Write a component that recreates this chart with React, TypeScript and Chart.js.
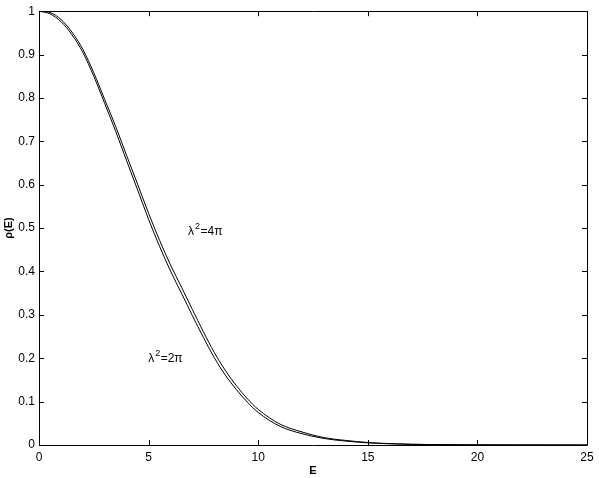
import React, { useEffect, useRef } from "react";
import { Chart, registerables } from "chart.js";

Chart.register(...registerables);

const energies = [0, 0.5, 1, 1.5, 2, 2.5, 3, 3.5, 4, 4.5, 5, 5.5, 6, 6.5, 7, 7.5, 8, 8.5, 9, 9.5, 10, 11, 12, 13, 14, 15, 16, 17, 18, 20, 22, 25];
const rho2pi = [1.0, 0.994, 0.976, 0.946, 0.905, 0.85, 0.787, 0.723, 0.655, 0.588, 0.52, 0.458, 0.401, 0.35, 0.298, 0.248, 0.201, 0.161, 0.128, 0.099, 0.075, 0.043, 0.026, 0.015, 0.009, 0.005, 0.0028, 0.0015, 0.0009, 0.0003, 0.0001, 0];
const rho4pi = [1.0, 0.997, 0.981, 0.952, 0.912, 0.858, 0.796, 0.734, 0.667, 0.601, 0.534, 0.472, 0.415, 0.364, 0.312, 0.261, 0.213, 0.172, 0.137, 0.107, 0.082, 0.048, 0.030, 0.017, 0.0105, 0.0058, 0.0032, 0.0017, 0.001, 0.0003, 0.0001, 0];
const xTicks = [0, 5, 10, 15, 20, 25];
const yTicks = [0, 0.1, 0.2, 0.3, 0.4, 0.5, 0.6, 0.7, 0.8, 0.9, 1];
const yTickLabels = ["0", "0.1", "0.2", "0.3", "0.4", "0.5", "0.6", "0.7", "0.8", "0.9", "1"];
const xTickLabels = ["0", "5", "10", "15", "20", "25"];
const annotations = [
  { base: "\u03bb", sup: "2", rest: "=4\u03c0", x: 6.8, y: 0.484 },
  { base: "\u03bb", sup: "2", rest: "=2\u03c0", x: 4.98, y: 0.191 },
];

const FONT = "'Liberation Sans', Arial, Helvetica, sans-serif";

const boxPlugin = {
  id: "boxTicks",
  afterDatasetsDraw(chart: any) {
    const { ctx, chartArea, scales } = chart;
    const { left, right, top, bottom } = chartArea;
    ctx.save();
    ctx.strokeStyle = "#000";
    ctx.lineWidth = 1;
    ctx.beginPath();
    ctx.rect(Math.round(left) + 0.5, Math.round(top) + 0.5, Math.round(right - left), Math.round(bottom - top));
    ctx.stroke();
    const tl = 5;
    ctx.beginPath();
    xTicks.forEach((v) => {
      const px = Math.round(scales.x.getPixelForValue(v)) + 0.5;
      ctx.moveTo(px, bottom);
      ctx.lineTo(px, bottom - tl);
      ctx.moveTo(px, top);
      ctx.lineTo(px, top + tl);
    });
    yTicks.forEach((v) => {
      const py = Math.round(scales.y.getPixelForValue(v)) + 0.5;
      ctx.moveTo(left, py);
      ctx.lineTo(left + tl, py);
      ctx.moveTo(right, py);
      ctx.lineTo(right - tl, py);
    });
    ctx.stroke();
    ctx.fillStyle = "#000";
    ctx.textBaseline = "alphabetic";
    ctx.textAlign = "left";
    annotations.forEach((a) => {
      let px = scales.x.getPixelForValue(a.x);
      const py = scales.y.getPixelForValue(a.y);
      ctx.font = `12px ${FONT}`;
      ctx.fillText(a.base, px, py);
      px += ctx.measureText(a.base).width + 1;
      ctx.font = `9px ${FONT}`;
      ctx.fillText(a.sup, px, py - 6);
      px += ctx.measureText(a.sup).width + 0.5;
      ctx.font = `12px ${FONT}`;
      ctx.fillText(a.rest, px, py);
    });
    ctx.restore();
  },
};

export default function App() {
  const ref = useRef<HTMLCanvasElement | null>(null);
  useEffect(() => {
    if (!ref.current) return;
    const chart = new Chart(ref.current, {
      type: "line",
      data: {
        datasets: [
          {
            label: "\u03bb\u00b2=2\u03c0",
            data: energies.map((e, i) => ({ x: e, y: rho2pi[i] })),
            borderColor: "#000",
            borderWidth: 1,
            pointRadius: 0,
            cubicInterpolationMode: "monotone",
            fill: false,
          },
          {
            label: "\u03bb\u00b2=4\u03c0",
            data: energies.map((e, i) => ({ x: e, y: rho4pi[i] })),
            borderColor: "#000",
            borderWidth: 1,
            pointRadius: 0,
            cubicInterpolationMode: "monotone",
            fill: false,
          },
        ],
      },
      options: {
        animation: false,
        responsive: false,
        devicePixelRatio: 1,
        layout: { padding: { left: 0, right: 12, top: 11, bottom: 0 } },
        plugins: { legend: { display: false }, tooltip: { enabled: false } },
        scales: {
          x: {
            type: "linear",
            min: 0,
            max: 25,
            afterFit: (s: any) => { s.height = 33; },
            afterBuildTicks: (s: any) => { s.ticks = xTicks.map((v) => ({ value: v })); },
            ticks: {
              color: "#000",
              padding: 5,
              maxRotation: 0,
              font: { family: FONT, size: 12 },
              callback: (v: any) => { const i = xTicks.indexOf(Number(v)); return i >= 0 ? xTickLabels[i] : ""; },
            },
            grid: { display: false, drawTicks: false },
            border: { display: false },
            title: { display: true, text: "E", color: "#000", font: { family: FONT, size: 11, weight: "bold" }, padding: { top: 0, bottom: 0 } },
          },
          y: {
            type: "linear",
            min: 0,
            max: 1,
            afterFit: (s: any) => { s.width = 39; },
            afterBuildTicks: (s: any) => { s.ticks = yTicks.map((v) => ({ value: v })); },
            ticks: {
              color: "#000",
              padding: 4,
              font: { family: FONT, size: 12 },
              callback: (v: any) => { const i = yTicks.findIndex((t) => Math.abs(t - Number(v)) < 1e-9); return i >= 0 ? yTickLabels[i] : ""; },
            },
            grid: { display: false, drawTicks: false },
            border: { display: false },
            title: { display: true, text: "\u03c1(E)", color: "#000", font: { family: FONT, size: 11, weight: "bold" }, padding: { top: 2, bottom: 0 } },
          },
        },
      },
      plugins: [boxPlugin],
    } as any);
    return () => chart.destroy();
  }, []);
  return (
    <div style={{ position: "fixed", left: 0, top: 0, width: 599, height: 478, background: "#fff" }}>
      <canvas ref={ref} width={599} height={478} style={{ width: 599, height: 478, display: "block" }} />
    </div>
  );
}
